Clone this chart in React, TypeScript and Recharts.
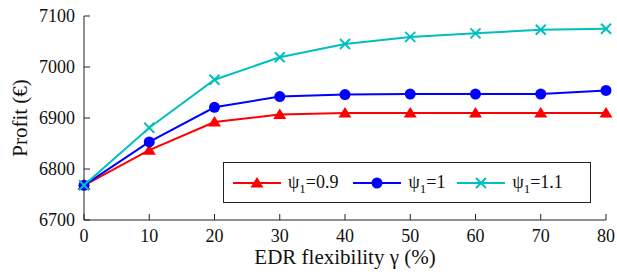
import { LineChart, Line, XAxis, YAxis, Legend } from "recharts";

const flexibility = [0, 10, 20, 30, 40, 50, 60, 70, 80];
const profitPsi09 = [6768, 6837, 6892, 6907, 6910, 6910, 6910, 6910, 6910];
const profitPsi10 = [6768, 6853, 6921, 6942, 6946, 6947, 6947, 6947, 6954];
const profitPsi11 = [6768, 6881, 6975, 7019, 7045, 7059, 7066, 7073, 7075];

const psiLabels = ["0.9", "1", "1.1"];
const xTicks = [0, 10, 20, 30, 40, 50, 60, 70, 80];
const yTicks = [6700, 6800, 6900, 7000, 7100];

const SERIF = "'Liberation Serif', 'DejaVu Serif', serif";
const AXIS = "#222";
const COLORS = ["#ff0000", "#0000ff", "#00bfbf"];
const KEYS = ["p09", "p10", "p11"];

const data = flexibility.map((f, i) => ({
  f,
  p09: profitPsi09[i],
  p10: profitPsi10[i],
  p11: profitPsi11[i],
}));

// markers
const Marker = ({ kind, cx, cy, color }: any) => {
  if (kind === 0) {
    return <polygon points={`${cx},${cy - 6} ${cx - 6.5},${cy + 4.5} ${cx + 6.5},${cy + 4.5}`} fill={color} />;
  }
  if (kind === 1) {
    return <circle cx={cx} cy={cy} r={5.5} fill={color} />;
  }
  return (
    <g stroke={color} strokeWidth={2}>
      <line x1={cx - 5} y1={cy - 5} x2={cx + 5} y2={cy + 5} />
      <line x1={cx - 5} y1={cy + 5} x2={cx + 5} y2={cy - 5} />
    </g>
  );
};

const BottomTick = ({ x, y, payload }: any) => (
  <g>
    <line x1={x} y1={y} x2={x} y2={y - 6} stroke={AXIS} />
    <text x={x} y={y + 22} textAnchor="middle" fontFamily={SERIF} fontSize={18} fill="#111">
      {payload.value}
    </text>
  </g>
);

const TopTick = ({ x, y }: any) => <line x1={x} y1={y} x2={x} y2={y + 6} stroke={AXIS} />;

const LeftTick = ({ x, y, payload }: any) => (
  <g>
    <line x1={x} y1={y} x2={x + 6} y2={y} stroke={AXIS} />
    <text x={x - 9} y={y + 6} textAnchor="end" fontFamily={SERIF} fontSize={18} fill="#111">
      {payload.value}
    </text>
  </g>
);

const RightTick = ({ x, y }: any) => <line x1={x} y1={y} x2={x - 6} y2={y} stroke={AXIS} />;

const LegendBox = () => (
  <div
    style={{
      border: "1px solid #222",
      background: "#fff",
      height: 41,
      display: "flex",
      alignItems: "center",
      fontFamily: SERIF,
      fontSize: 18,
      color: "#111",
      paddingLeft: 9,
      boxSizing: "border-box",
      width: 368,
    }}
  >
    {psiLabels.map((lab, i) => (
      <div key={lab} style={{ display: "flex", alignItems: "center", marginRight: i === 0 ? 15 : 12 }}>
        <svg width={48} height={16}>
          <line x1={0} y1={8} x2={48} y2={8} stroke={COLORS[i]} strokeWidth={2} />
          <Marker kind={i} cx={24} cy={8} color={COLORS[i]} />
        </svg>
        <span style={{ marginLeft: 7, whiteSpace: "nowrap" }}>
          ψ<sub style={{ fontSize: 13, verticalAlign: -5, lineHeight: 0 }}>1</sub>={lab}
        </span>
      </div>
    ))}
  </div>
);

export default function App() {
  return (
    <div style={{ position: "absolute", left: 0, top: 0, width: 617, height: 272, background: "#fff" }}>
      <LineChart width={617} height={272} data={data} margin={{ top: 16, right: 11, bottom: 0, left: 0 }}>
        <XAxis
          dataKey="f"
          type="number"
          domain={[0, 80]}
          ticks={xTicks}
          height={52}
          tickSize={0}
          tickMargin={0}
          tickLine={false}
          axisLine={{ stroke: AXIS }}
          tick={<BottomTick />}
          label={{
            value: "EDR flexibility γ (%)",
            position: "insideBottom",
            offset: 8,
            fontFamily: SERIF,
            fontSize: 21,
            fill: "#111",
          }}
        />
        <XAxis
          xAxisId="top"
          orientation="top"
          dataKey="f"
          type="number"
          domain={[0, 80]}
          ticks={xTicks}
          height={0}
          tickSize={0}
          tickMargin={0}
          tickLine={false}
          axisLine={{ stroke: AXIS }}
          tick={<TopTick />}
        />
        <YAxis
          type="number"
          domain={[6700, 7100]}
          ticks={yTicks}
          width={84}
          tickSize={0}
          tickMargin={0}
          tickLine={false}
          axisLine={{ stroke: AXIS }}
          tick={<LeftTick />}
          label={{
            value: "Profit (€)",
            angle: -90,
            position: "center",
            dx: -22,
            fontFamily: SERIF,
            fontSize: 21,
            fill: "#111",
          }}
        />
        <YAxis
          yAxisId="right"
          orientation="right"
          type="number"
          domain={[6700, 7100]}
          ticks={yTicks}
          width={0}
          tickSize={0}
          tickMargin={0}
          tickLine={false}
          axisLine={{ stroke: AXIS }}
          tick={<RightTick />}
        />
        <Legend
          layout="horizontal"
          verticalAlign="middle"
          align="center"
          content={<LegendBox />}
          wrapperStyle={{ left: 223, top: 162, width: 368, height: 41 }}
        />
        {KEYS.map((k, i) => (
          <Line
            key={k}
            dataKey={k}
            stroke={COLORS[i]}
            strokeWidth={2}
            isAnimationActive={false}
            dot={(p: any) => <Marker key={`${k}-${p.index}`} kind={i} cx={p.cx} cy={p.cy} color={COLORS[i]} />}
            activeDot={false}
          />
        ))}
      </LineChart>
    </div>
  );
}
